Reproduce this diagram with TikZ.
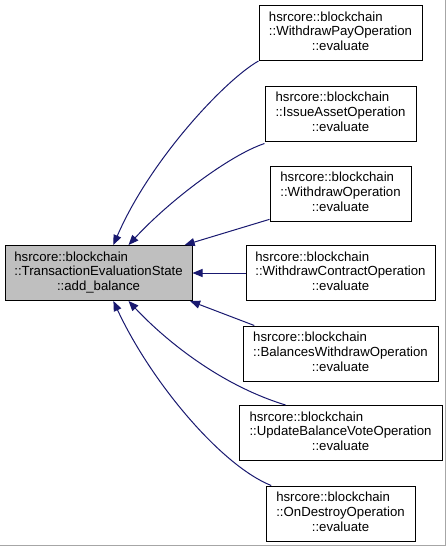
\documentclass[tikz,border=0pt]{standalone}
\usepackage{fontspec}
\setmainfont{Liberation Sans}
\usetikzlibrary{arrows.meta}
\definecolor{edgeblue}{HTML}{191970}
\definecolor{maingray}{HTML}{BFBFBF}
\newcommand{\dxlabel}[3]{\begin{tabular}{@{}l@{}}#1\\#2\\\multicolumn{1}{@{}c@{}}{#3}\end{tabular}}
\tikzset{
  fnbox/.style={draw=black, line width=1pt, fill=white, inner sep=0pt, minimum height=55pt,
    font=\fontsize{13.2}{14.7}\selectfont},
  mainbox/.style={fnbox, fill=maingray},
  edge/.style={draw=edgeblue, line width=1pt, -{Triangle[length=10pt,width=8pt]}},
}
\begin{document}
\begin{tikzpicture}[x=1pt,y=-1pt]
\useasboundingbox (0,0) rectangle (447,547);
\fill[white] (0,0) rectangle (447,547);
\draw[gray!70, line width=1pt] (445.5,0) -- (445.5,545.5) -- (0,545.5);

\node[mainbox, minimum width=187pt] (main) at (98.5,273) {\dxlabel{hsrcore::blockchain}{::TransactionEvaluationState}{::add\_balance}};

\node[fnbox, minimum width=163pt] (b1) at (340.5,33) {\dxlabel{hsrcore::blockchain}{::WithdrawPayOperation}{::evaluate}};
\node[fnbox, minimum width=151pt] (b2) at (340.5,113.5) {\dxlabel{hsrcore::blockchain}{::IssueAssetOperation}{::evaluate}};
\node[fnbox, minimum width=141pt] (b3) at (340.5,193.5) {\dxlabel{hsrcore::blockchain}{::WithdrawOperation}{::evaluate}};
\node[fnbox, minimum width=189pt] (b4) at (340.5,273) {\dxlabel{hsrcore::blockchain}{::WithdrawContractOperation}{::evaluate}};
\node[fnbox, minimum width=195pt] (b5) at (340.5,353.5) {\dxlabel{hsrcore::blockchain}{::BalancesWithdrawOperation}{::evaluate}};
\node[fnbox, minimum width=203pt] (b6) at (340.5,433) {\dxlabel{hsrcore::blockchain}{::UpdateBalanceVoteOperation}{::evaluate}};
\node[fnbox, minimum width=149pt] (b7) at (340.5,513.5) {\dxlabel{hsrcore::blockchain}{::OnDestroyOperation}{::evaluate}};

\draw[edge] (b1.south west) .. controls (225,80) and (150,160) .. (main.62);
\draw[edge] ([yshift=-2pt]b2.south west) .. controls (230,155) and (170,200) .. (main.43);
\draw[edge] (b3.-160) -- (main.18);
\draw[edge] (b4.west) -- (main.east);
\draw[edge] (b5.162) -- (main.-17.6);
\draw[edge] (b6.153) .. controls (220,385) and (165,340) .. (main.-43);
\draw[edge] (b7.158) .. controls (220,465) and (150,380) .. (main.-62);
\end{tikzpicture}
\end{document}
